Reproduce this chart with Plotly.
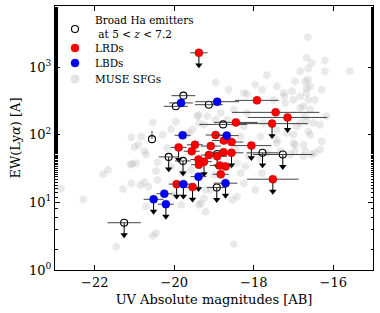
import numpy as np
import plotly.graph_objects as go

# ---------------- data ----------------
# MUSE star-forming galaxies (M_UV, EW)
muse_muv = [-16.64,-16.21,-16.67,-16.54,-15.58,-16.21,-16.83,-16.63,-17.67,-18.96,
            -16.63,-16.96,-16.67,-16.29,-17.04,-17.79,-18.17,-17.23,-16.83,-16.63,
            -17.5,-19.42,-19.25,-16.83,-16.58,-16.67,-16.92,-16.63,-16.29,-17.0,
            -16.75,-17.42,-18.33,-16.54,-17.0,-16.46,-16.67,-16.75,-16.17,-16.71,
            -16.83,-16.5,-16.33,-17.0,-16.58,-16.96,-16.33,-16.96,-16.75,-16.71,
            -16.58,-20.54,-21.08,-20.9,-20.71,-20.08,-20.18,-19.96,-19.71,-21.1,
            -21.67,-21.79,-22.85,-22.29,-21.29,-20.75,-20.85,-20.65,-20.46,-20.71,
            -20.46,-20.54,-21.46,-20.42,-19.83,-20.0,-19.79,-20.08,-21.06,-18.5,
            -19.21,-18.33,-17.79,-18.54,-18.25,-18.75,-19.33,-18.63,-18.42,-18.21,
            -17.67,-17.33,-17.08,-16.71,-16.46,-17.83,-18.42,-18.13,-18.25,-17.96,
            -17.42,-17.25,-17.21,-17.17,-17.42,-17.75,-18.25,-18.17,-18.5,-18.67,
            -17.83,-17.42,-18.83,-18.96,-20.83,-20.29,-19.63,-19.38,-19.17,-19.38,
            -19.54,-20.75,-18.63,-21.0,-20.96,-20.42,-21.08,-19.38,-19.21,-19.25,
            -19.58,-19.0,-18.46,-19.08,-17.96]
muse_ew = [2760,1250,1370,1150,867,867,867,950,761,596,
           653,616,492,464,438,464,401,369,369,330,
           330,187,141,249,235,157,133,112,80,75,
           71,84,94,51,330,330,415,263,187,187,
           149,149,141,100,100,71,60,57,48,616,
           520,152,91,71,51,121,64,157,100,36,
           30,26,16,11,15.7,20,18,17,29,8.7,
           3.5,3.2,2.2,39,9.2,12.9,27,34,37,2.4,
           7.3,27,27,10.9,19,21.5,9.7,34,38,34,
           54,57,51,57,54,45,12.2,48,415,550,
           520,415,295,106,119,149,133,210,235,167,
           94,75,210,167,94,100,106,149,187,198,
           119,57,464,66,38,21.5,19,9.2,15.3,11.5,
           30,25.5,60,15.3,15.3]

# Broad H-alpha emitters at 5<z<7.2
bha_muv  = [-21.26,-20.56,-19.77,-19.96,-19.13,-18.77,-17.78,-17.27,-18.92,-20.14,-19.78,-18.93]
bha_ew   = [5.0,86,378,263,278,142,54,51,52,47,41,16.6]
bha_xerr = [0.42,0.0,0.3,0.3,0.35,0.6,0.4,0.75,0.3,0.25,0.2,0.25]
bha_yerr_up = [0,28,0,0,0,0,0,0,0,0,0,0]
bha_ul   = [1,0,0,0,0,0,1,1,1,1,1,1]

# LRDs
lrd_muv  = [-19.38,-17.92,-17.45,-17.15,-18.45,-17.54,-18.96,-19.48,-19.08,-18.75,
            -18.56,-18.06,-19.89,-19.56,-18.76,-19.13,-18.92,-19.39,-19.25,-18.85,
            -18.71,-18.83,-19.94,-19.54,-17.52,-18.56,-19.38]
lrd_ew   = [1624,322,214,180,152,146,99,71,68,82,
            78,69,65,57,55,50,48,43,40,35,
            34,26,18.6,16.8,22,54,36]
lrd_xerr = [0.22,0.55,1.1,1.0,0.55,0.9,0.25,0.2,0.25,0.3,
            0.3,0.5,0.2,0.2,0.3,0.2,0.25,0.2,0.2,0.25,
            0.2,0.2,0.2,0.2,0.65,0.3,0.2]
lrd_ul   = [1,0,0,1,0,1,0,0,0,0,
            0,1,1,0,0,0,0,0,1,0,
            0,0,1,1,1,1,0]

# LBDs
lbd_muv  = [-19.83,-18.92,-19.79,-18.68,-19.39,-19.77,-20.52,-20.25,-20.21,-18.71]
lbd_ew   = [295,308,98,97,24,18.6,11.1,13.4,9.4,19.2]
lbd_xerr = [0.3,0.55,0.2,0.3,0.2,0.2,0.25,0.2,0.2,0.3]
lbd_ul   = [0,0,0,0,1,1,1,0,1,1]

legend_labels = ["Broad Ha emitters<br> at 5 &lt; <i>z</i> &lt; 7.2", "LRDs", "LBDs", "MUSE SFGs"]

FONT = "DejaVu Serif"
ARROW_FAC = 0.66
W, H = 380, 313
ML, MR, MT, MB = 55, 7, 6, 43
PW, PH = W - ML - MR, H - MT - MB

GREY = "rgba(170,170,170,0.26)"
RED, BLUE = "#ff0000", "#0000ff"

fig = go.Figure()

# MUSE SFGs
fig.add_trace(go.Scatter(
    x=muse_muv, y=muse_ew, mode="markers", name="MUSE SFGs", showlegend=False,
    marker=dict(symbol="hexagon", size=8.5, color=GREY, line=dict(width=0)),
    hoverinfo="skip"))

# upper-limit arrows (line + downward triangle)
def arrows(xs, ys, flags):
    lx, ly, tx, ty = [], [], [], []
    for x, y, f in zip(xs, ys, flags):
        if f:
            lx += [x, x, None]
            ly += [y, y * ARROW_FAC, None]
            tx.append(x)
            ty.append(y * ARROW_FAC)
    return lx, ly, tx, ty

all_x = bha_muv + lrd_muv + lbd_muv
all_y = bha_ew + lrd_ew + lbd_ew
all_f = bha_ul + lrd_ul + lbd_ul
lx, ly, tx, ty = arrows(all_x, all_y, all_f)
fig.add_trace(go.Scatter(x=lx, y=ly, mode="lines", line=dict(color="black", width=1),
                         showlegend=False, hoverinfo="skip"))
fig.add_trace(go.Scatter(x=tx, y=ty, mode="markers",
                         marker=dict(symbol="triangle-down", size=6.5, color="black"),
                         showlegend=False, hoverinfo="skip"))

# Broad Ha emitters (open circles)
fig.add_trace(go.Scatter(
    x=bha_muv, y=bha_ew, mode="markers", name="Broad Ha emitters", showlegend=False,
    error_x=dict(type="data", array=bha_xerr, color="#444444", thickness=1, width=0),
    error_y=dict(type="data", array=bha_yerr_up, arrayminus=[0]*len(bha_ew),
                 color="#444444", thickness=1, width=0),
    marker=dict(symbol="circle", size=7, color="rgba(255,255,255,0)",
                line=dict(color="black", width=1.1))))

# LRDs
fig.add_trace(go.Scatter(
    x=lrd_muv, y=lrd_ew, mode="markers", name="LRDs", showlegend=False,
    error_x=dict(type="data", array=lrd_xerr, color="#444444", thickness=1, width=0),
    marker=dict(symbol="circle", size=8, color=RED, line=dict(color="#b00000", width=0.5))))

# LBDs
fig.add_trace(go.Scatter(
    x=lbd_muv, y=lbd_ew, mode="markers", name="LBDs", showlegend=False,
    error_x=dict(type="data", array=lbd_xerr, color="#444444", thickness=1, width=0),
    marker=dict(symbol="circle", size=8, color=BLUE, line=dict(color="#0000a0", width=0.5))))

# ---- manual legend (top-left, inside axes) ----
def px2paper(px, py):
    return (px - ML) / PW, 1 - (py - MT) / PH

leg_marker_px = 75
leg_text_px = 93
leg_rows_py = [29, 48, 63, 79]
leg_text_py = [27, 48, 63, 79]
leg_styles = [
    dict(fillcolor="rgba(255,255,255,0)", line=dict(color="black", width=1.1), r=3.5),
    dict(fillcolor=RED, line=dict(color=RED, width=0.5), r=4),
    dict(fillcolor=BLUE, line=dict(color=BLUE, width=0.5), r=4),
    dict(fillcolor="rgba(205,205,205,0.55)", line=dict(width=0), r=4.5),
]
for lab, py, tpy, st in zip(legend_labels, leg_rows_py, leg_text_py, leg_styles):
    xp, yp = px2paper(leg_marker_px, py)
    r = st["r"]
    fig.add_shape(type="circle", xref="paper", yref="paper",
                  xsizemode="pixel", ysizemode="pixel", xanchor=xp, yanchor=yp,
                  x0=-r, x1=r, y0=-r, y1=r,
                  fillcolor=st["fillcolor"], line=st["line"])
    txp, typ = px2paper(leg_text_px, tpy)
    fig.add_annotation(x=txp, y=typ, xref="paper", yref="paper", text=lab,
                       showarrow=False, xanchor="left", yanchor="middle", align="left",
                       font=dict(family=FONT, size=10.5, color="black"))

fig.update_layout(
    width=W, height=H,
    margin=dict(l=ML, r=MR, t=MT, b=MB),
    paper_bgcolor="white", plot_bgcolor="white",
    font=dict(family=FONT, color="black", size=12),
    showlegend=False,
)
fig.update_xaxes(
    range=[-23, -15], tickvals=[-22, -20, -18, -16],
    ticks="inside", ticklen=5, tickcolor="black", mirror="allticks",
    showline=True, linecolor="black", linewidth=1, showgrid=False, zeroline=False,
    tickfont=dict(family=FONT, size=13), automargin=False,
    title=dict(text="UV Absolute magnitudes [AB]", font=dict(family=FONT, size=13), standoff=6),
)
fig.update_yaxes(
    type="log", range=[0, np.log10(8000)],
    tickvals=[1, 10, 100, 1000],
    ticktext=["10<sup>0</sup>", "10<sup>1</sup>", "10<sup>2</sup>", "10<sup>3</sup>"],
    ticks="inside", ticklen=5, tickcolor="black", mirror="allticks",
    minor=dict(ticks="inside", ticklen=2.5, tickcolor="black", showgrid=False),
    showline=True, linecolor="black", linewidth=1, showgrid=False, zeroline=False,
    tickfont=dict(family=FONT, size=13), automargin=False,
    title=dict(text="EW(Ly<i>α</i>) [A]", font=dict(family=FONT, size=13), standoff=5),
)

fig.write_html("out.html", config={"displayModeBar": False},
               post_script="document.body.style.margin='0px';")
